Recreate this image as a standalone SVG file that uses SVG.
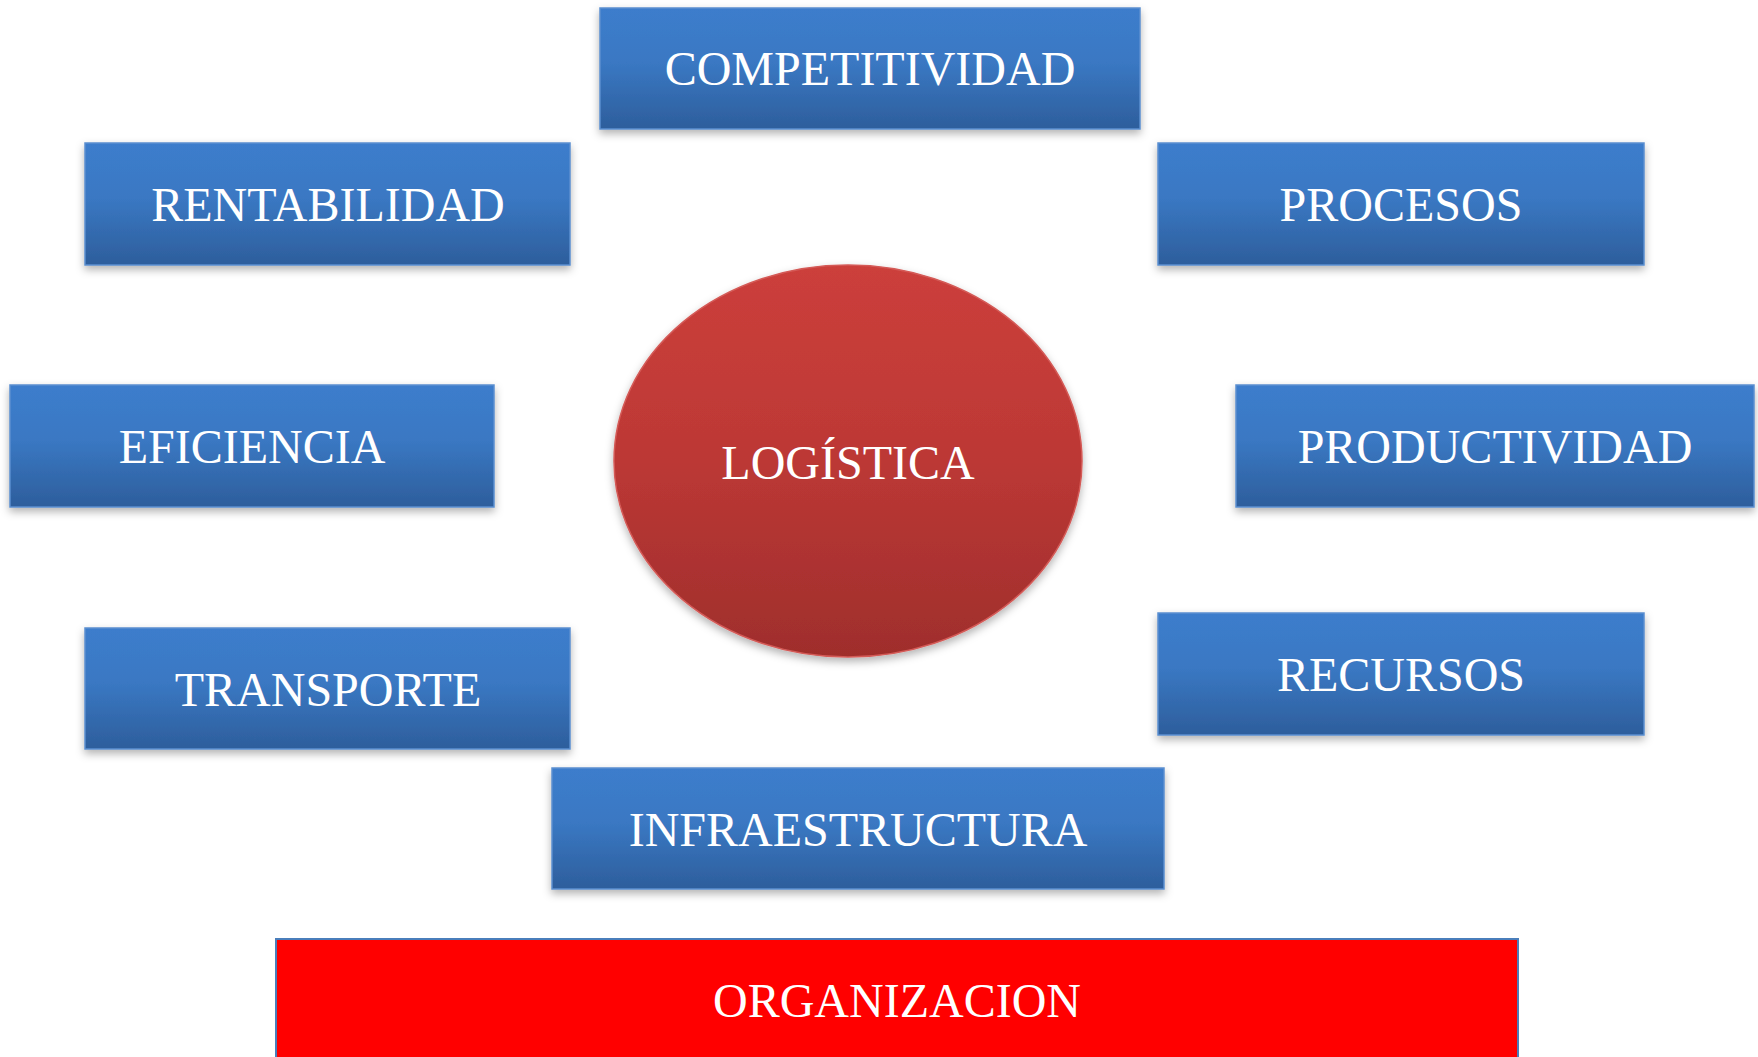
<svg xmlns="http://www.w3.org/2000/svg" width="1758" height="1057" viewBox="0 0 1758 1057">
<defs>
<linearGradient id="gBlue" x1="0" y1="0" x2="0" y2="1">
<stop offset="0" stop-color="#3c7dcc"/>
<stop offset="0.45" stop-color="#3a78c3"/>
<stop offset="1" stop-color="#2d5e9c"/>
</linearGradient>
<linearGradient id="gRed" x1="0" y1="0" x2="0" y2="1">
<stop offset="0" stop-color="#cc3f3b"/>
<stop offset="0.5" stop-color="#bc3835"/>
<stop offset="1" stop-color="#9f2e2c"/>
</linearGradient>
<filter id="sh" x="-10%" y="-10%" width="120%" height="130%">
<feDropShadow dx="0" dy="4" stdDeviation="4" flood-color="#000" flood-opacity="0.3"/>
</filter>
</defs>
<style>
.box{fill:url(#gBlue);stroke:#5b8fd0;stroke-width:1.5;filter:url(#sh)}
.lbl{font-family:"Liberation Serif","Times New Roman",serif;font-size:48px;fill:#ffffff;text-anchor:middle}
</style>
<rect width="1758" height="1057" fill="#ffffff"/>
<g id="connectors"></g>
<g id="competitividad"><rect class="box" x="600" y="8" width="540" height="121"/><text class="lbl" x="870" y="85">COMPETITIVIDAD</text></g>
<g id="rentabilidad"><rect class="box" x="85" y="143" width="485" height="122"/><text class="lbl" x="328" y="221">RENTABILIDAD</text></g>
<g id="procesos"><rect class="box" x="1158" y="143" width="486" height="122"/><text class="lbl" x="1401" y="221">PROCESOS</text></g>
<g id="eficiencia"><rect class="box" x="10" y="385" width="484" height="122"/><text class="lbl" x="252" y="463">EFICIENCIA</text></g>
<g id="productividad"><rect class="box" x="1236" y="385" width="518" height="122"/><text class="lbl" x="1495" y="463">PRODUCTIVIDAD</text></g>
<g id="transporte"><rect class="box" x="85" y="628" width="485" height="121"/><text class="lbl" x="328" y="706">TRANSPORTE</text></g>
<g id="recursos"><rect class="box" x="1158" y="613" width="486" height="122"/><text class="lbl" x="1401" y="691">RECURSOS</text></g>
<g id="infraestructura"><rect class="box" x="552" y="768" width="612" height="121"/><text class="lbl" x="858" y="846">INFRAESTRUCTURA</text></g>
<g id="logistica"><ellipse cx="848" cy="461" rx="234" ry="196" fill="url(#gRed)" stroke="#d45a57" stroke-width="1.5" filter="url(#sh)"/><text class="lbl" x="848" y="479">LOGÍSTICA</text></g>
<g id="organizacion"><rect x="276" y="939" width="1242" height="130" fill="#ff0000" stroke="#4a7ebb" stroke-width="2"/><text class="lbl" x="897" y="1017">ORGANIZACION</text></g>
</svg>
